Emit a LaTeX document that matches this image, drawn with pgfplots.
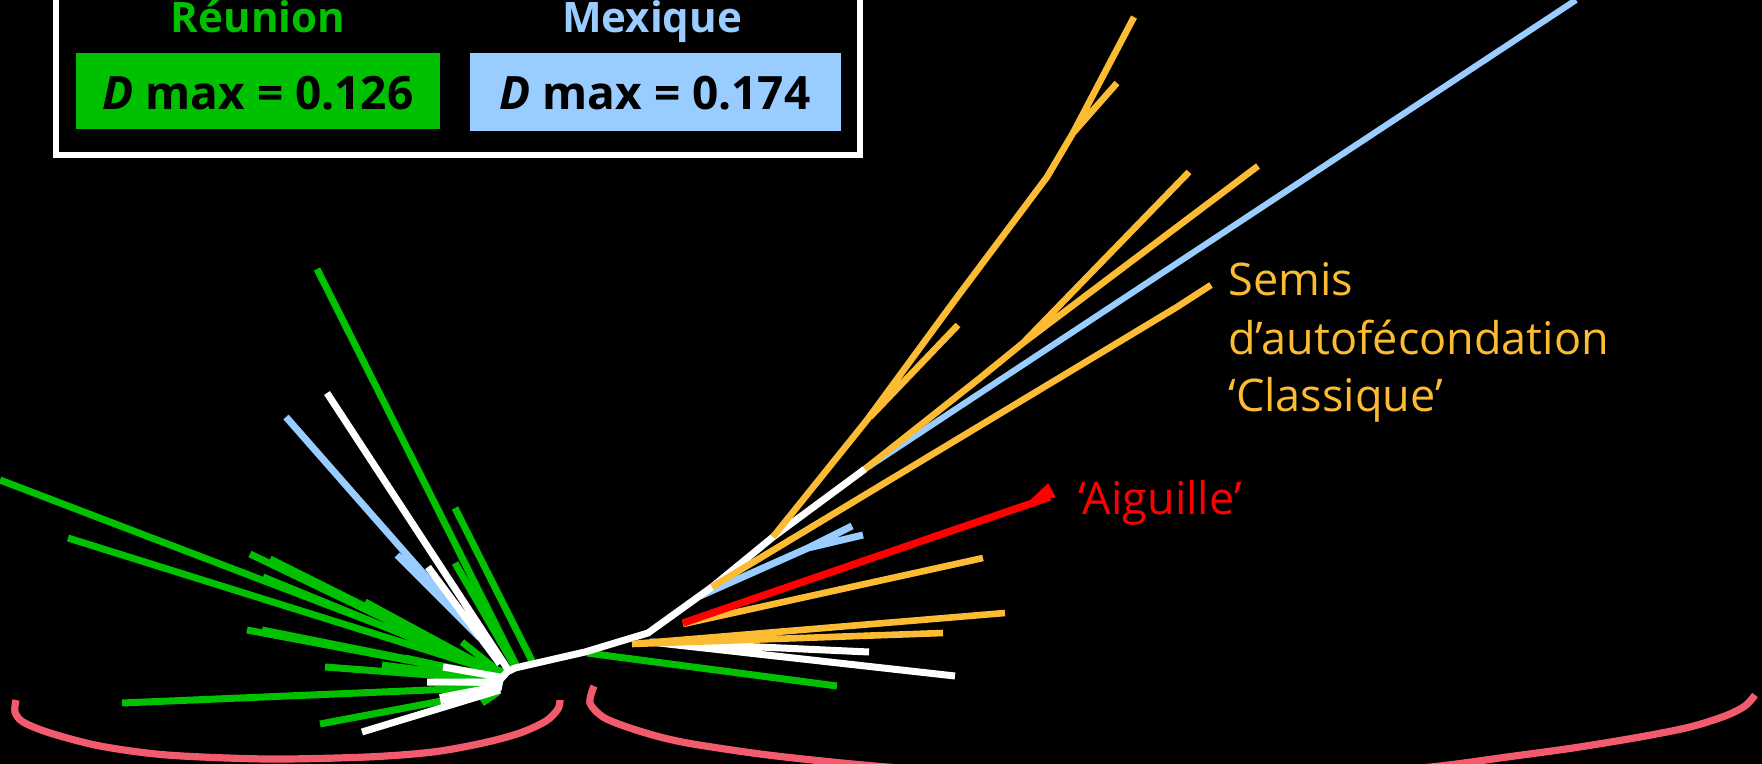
\documentclass[border=0pt]{standalone}
\usepackage{pgfplots}
\pgfplotsset{compat=1.18}
\usepackage{fontspec}
\setmainfont{Open Sans}
\definecolor{gc}{RGB}{0,192,0}
\definecolor{bc}{RGB}{153,204,255}
\definecolor{oc}{RGB}{251,187,51}
\definecolor{rc}{RGB}{255,0,0}
\definecolor{pc}{RGB}{242,90,110}
\begin{document}
\begin{tikzpicture}
\useasboundingbox (0,0) rectangle (881pt,382pt);
\clip (0,0) rectangle (881pt,382pt);
\fill[black] (0,0) rectangle (881pt,382pt);
\begin{axis}[at={(0,0)}, anchor=south west, scale only axis,
  width=881pt, height=382pt, xmin=0, xmax=1762, ymin=0, ymax=764,
  y dir=reverse, hide axis, clip=true, unbounded coords=jump,
  every axis plot/.append style={line cap=butt, line join=miter, mark=none}]
% green branches
\addplot[gc, line width=3.5pt] coordinates {
(317,269) (516,665) (nan,nan)
(455,508) (532,661) (nan,nan)
(455,563) (514,665) (nan,nan)
(0,480) (503,672) (nan,nan)
(68,538) (500,673) (nan,nan)
(250,554) (500,674) (nan,nan)
(270,559) (500,674) (nan,nan)
(263,577) (500,674) (nan,nan)
(365,602) (500,675) (nan,nan)
(462,642) (502,674) (nan,nan)
(247,630) (497,677) (nan,nan)
(262,630) (497,677) (nan,nan)
(325,667) (497,680) (nan,nan)
(382,665) (497,680) (nan,nan)
(405,658) (497,678) (nan,nan)
(122,703) (500,687) (nan,nan)
(320,724) (500,690) (nan,nan)
(482,703) (498,692) (nan,nan)
(587,653) (837,686)
};
% blue branches
\addplot[bc, line width=3.5pt] coordinates {
(286,417) (480,638) (nan,nan)
(397,555) (480,638) (nan,nan)
(467,682) (500,683) (nan,nan)
(700,596) (808,548) (852,526) (nan,nan)
(808,548) (863,535)
};
\addplot[bc, line width=3.1pt] coordinates {(865,469) (1576,0)};
% white branches
\addplot[white, line width=3.5pt] coordinates {
(498,690) (500,680) (507,672) (515,668) (585,652) (648,633) (712,587) (773,537) (865,469) (nan,nan)
(327,393) (507,668) (nan,nan)
(428,567) (500,664) (nan,nan)
(443,667) (500,677) (nan,nan)
(427,682) (500,682) (nan,nan)
(362,732) (500,690) (nan,nan)
(650,642) (869,652) (nan,nan)
(650,642) (955,676)
};
\addplot[white, line width=5pt] coordinates {(440,699) (498,688)};
% orange branches
\addplot[oc, line width=3.3pt] coordinates {
(712,587) (1177,307) (1211,285) (nan,nan)
(773,537) (867,420) (955,300) (1047,177) (1073,133) (1134,17) (nan,nan)
(1073,133) (1117,83) (nan,nan)
(870,417) (958,325) (nan,nan)
(865,469) (980,378) (1023,343) (1189,172) (nan,nan)
(1023,343) (1258,166) (nan,nan)
(632,644) (943,633) (nan,nan)
(632,644) (1005,613) (nan,nan)
(683,624) (983,558)
};
% red branch
\addplot[rc, line width=3.7pt] coordinates {(683,623) (1050,497)};
\addplot[rc, fill=rc, draw=rc, line width=0.5pt] coordinates {(1030,501) (1048,484) (1055,497) (1030,501)};
% arcs
\addplot[pc, line width=3.6pt, smooth, line cap=butt] coordinates {
(16,700) (15,712) (23,722) (50,733) (100,746) (167,755) (267,759) (367,757) (433,752) (483,743) (520,733) (546,721) (558,709) (560,700)};
\addplot[pc, line width=3.6pt, smooth, line cap=butt] coordinates {
(594,686) (590,703) (603,717) (627,727) (660,737) (693,744) (760,754) (827,761.5) (893,767.5) (1000,775) (1100,780) (1170,782) (1250,781) (1330,777) (1440,766) (1507,757) (1573,748) (1640,737) (1690,727) (1725,716) (1745,706) (1755,695)};
% legend box
\draw[white, line width=2.6pt] (axis cs:56,-30) rectangle (axis cs:860,155);
\fill[gc] (axis cs:76,53) rectangle (axis cs:440,129);
\fill[bc] (axis cs:470,53) rectangle (axis cs:841,131);
\node[anchor=base, text=gc, font=\bfseries\fontsize{21pt}{25pt}\selectfont, inner sep=0pt] at (axis cs:258,33) {Réunion};
\node[anchor=base, text=bc, font=\bfseries\fontsize{21pt}{25pt}\selectfont, inner sep=0pt] at (axis cs:652,33) {Mexique};
\node[anchor=base, text=black, font=\bfseries\fontsize{23pt}{27pt}\selectfont, inner sep=0pt] at (axis cs:258,110) {\textit{D} max = 0.126};
\node[anchor=base, text=black, font=\bfseries\fontsize{23pt}{27pt}\selectfont, inner sep=0pt] at (axis cs:655,110) {\textit{D} max = 0.174};
% labels
\node[anchor=base west, text=oc, font=\fontsize{22.5pt}{27pt}\selectfont, inner sep=0pt] at (axis cs:1228,296) {Semis};
\node[anchor=base west, text=oc, font=\fontsize{22.5pt}{27pt}\selectfont, inner sep=0pt] at (axis cs:1228,355) {d’autofécondation};
\node[anchor=base west, text=oc, font=\fontsize{22.5pt}{27pt}\selectfont, inner sep=0pt] at (axis cs:1228,412) {‘Classique’};
\node[anchor=base west, text=rc, font=\fontsize{22.5pt}{27pt}\selectfont, inner sep=0pt] at (axis cs:1078,515) {‘Aiguille’};
\end{axis}
\end{tikzpicture}
\end{document}
